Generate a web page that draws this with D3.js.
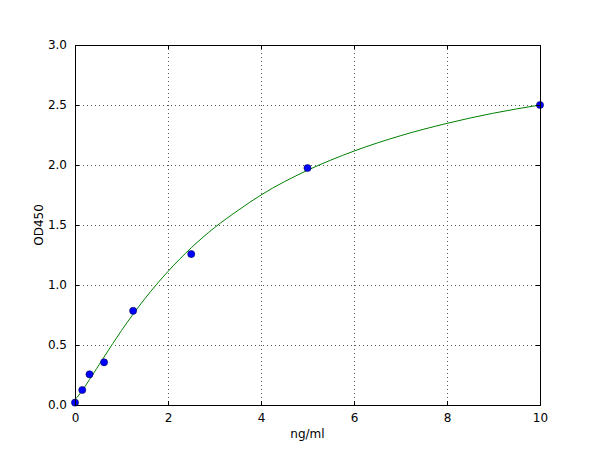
<!DOCTYPE html>
<html>
<head>
<meta charset="utf-8">
<script src="https://cdn.jsdelivr.net/npm/d3@7"></script>
<style>
  html, body { margin: 0; padding: 0; background: #fff; }
  svg { display: block; font-family: "DejaVu Sans", sans-serif; }
</style>
</head>
<body>
<svg id="chart" width="600" height="450"></svg>
<script>
// Measured standards (ng/ml vs OD450)
const concentrations = [0, 0.156, 0.3125, 0.625, 1.25, 2.5, 5, 10];
const odValues = [0.02, 0.125, 0.256, 0.356, 0.785, 1.258, 1.975, 2.50];

// Fitted curve
const curveX = [0, 0.05, 0.156, 0.3125, 0.625, 1, 1.25, 1.5, 2, 2.5, 3, 3.5, 4, 5, 6, 7, 8, 9, 10];
const curveY = [0.047, 0.066, 0.121, 0.212, 0.40, 0.621, 0.757, 0.885, 1.113, 1.31, 1.478, 1.62, 1.75, 1.956, 2.116, 2.244, 2.347, 2.432, 2.50];

const xTicks = [0, 2, 4, 6, 8, 10];
const yTicks = [0.0, 0.5, 1.0, 1.5, 2.0, 2.5, 3.0];
const xLabel = "ng/ml";
const yLabel = "OD450";

(function () {
const svg = d3.select("#chart");
const m = { left: 75, top: 45, right: 540, bottom: 405 };

const x = d3.scaleLinear().domain([0, 10]).range([m.left, m.right]);
const y = d3.scaleLinear().domain([0, 3]).range([m.bottom, m.top]);

// grid
const grid = svg.append("g").attr("shape-rendering", "crispEdges");
grid.selectAll("line.gx").data(xTicks.slice(1, -1)).enter().append("line")
  .attr("x1", d => x(d)).attr("x2", d => x(d))
  .attr("y1", m.top).attr("y2", m.bottom)
  .attr("stroke", "#555").attr("stroke-width", 1)
  .attr("stroke-dasharray", "1,3");
grid.selectAll("line.gy").data(yTicks.slice(1, -1)).enter().append("line")
  .attr("x1", m.left).attr("x2", m.right)
  .attr("y1", d => y(d)).attr("y2", d => y(d))
  .attr("stroke", "#555").attr("stroke-width", 1)
  .attr("stroke-dasharray", "1,3");

// fitted curve
const line = d3.line()
  .x((d, i) => x(curveX[i]))
  .y(d => y(d))
  .curve(d3.curveMonotoneX);
svg.append("path")
  .attr("d", line(curveY))
  .attr("fill", "none")
  .attr("stroke", "#008000")
  .attr("stroke-width", 1);

// points
svg.append("g").selectAll("circle").data(concentrations).enter().append("circle")
  .attr("cx", d => x(d))
  .attr("cy", (d, i) => y(odValues[i]))
  .attr("r", 3.6)
  .attr("fill", "#0000ff")
  .attr("stroke", "#000033")
  .attr("stroke-width", 0.5);

// axes (inward ticks on all sides, matplotlib classic)
const axB = d3.axisBottom(x).tickValues(xTicks).tickSizeInner(-4).tickSizeOuter(0).tickPadding(8).tickFormat(d3.format("d"));
const axT = d3.axisTop(x).tickValues(xTicks).tickSizeInner(-4).tickSizeOuter(0).tickFormat("");
const axL = d3.axisLeft(y).tickValues(yTicks).tickSizeInner(-4).tickSizeOuter(0).tickPadding(8).tickFormat(d3.format(".1f"));
const axR = d3.axisRight(y).tickValues(yTicks).tickSizeInner(-4).tickSizeOuter(0).tickFormat("");

function style(g) {
  g.select(".domain").remove();
  g.selectAll(".tick line").attr("stroke", "#000").attr("stroke-width", 1).attr("shape-rendering", "crispEdges");
  g.selectAll(".tick text").attr("fill", "#000").style("font-size", "12px").style("font-family", "DejaVu Sans, sans-serif");
}
svg.append("g").attr("transform", `translate(0,${m.bottom})`).call(axB).call(style);
svg.append("g").attr("transform", `translate(0,${m.top})`).call(axT).call(style);
svg.append("g").attr("transform", `translate(${m.left},0)`).call(axL).call(style);
svg.append("g").attr("transform", `translate(${m.right},0)`).call(axR).call(style);

// frame
svg.append("rect")
  .attr("x", m.left).attr("y", m.top)
  .attr("width", m.right - m.left).attr("height", m.bottom - m.top)
  .attr("fill", "none").attr("stroke", "#000").attr("stroke-width", 1)
  .attr("shape-rendering", "crispEdges");

// labels
svg.append("text")
  .attr("x", (m.left + m.right) / 2).attr("y", 438)
  .attr("text-anchor", "middle").style("font-size", "12px").text(xLabel);
svg.append("text")
  .attr("transform", `translate(43,${(m.top + m.bottom) / 2}) rotate(-90)`)
  .attr("text-anchor", "middle").style("font-size", "12px").text(yLabel);
})();
</script>
</body>
</html>
